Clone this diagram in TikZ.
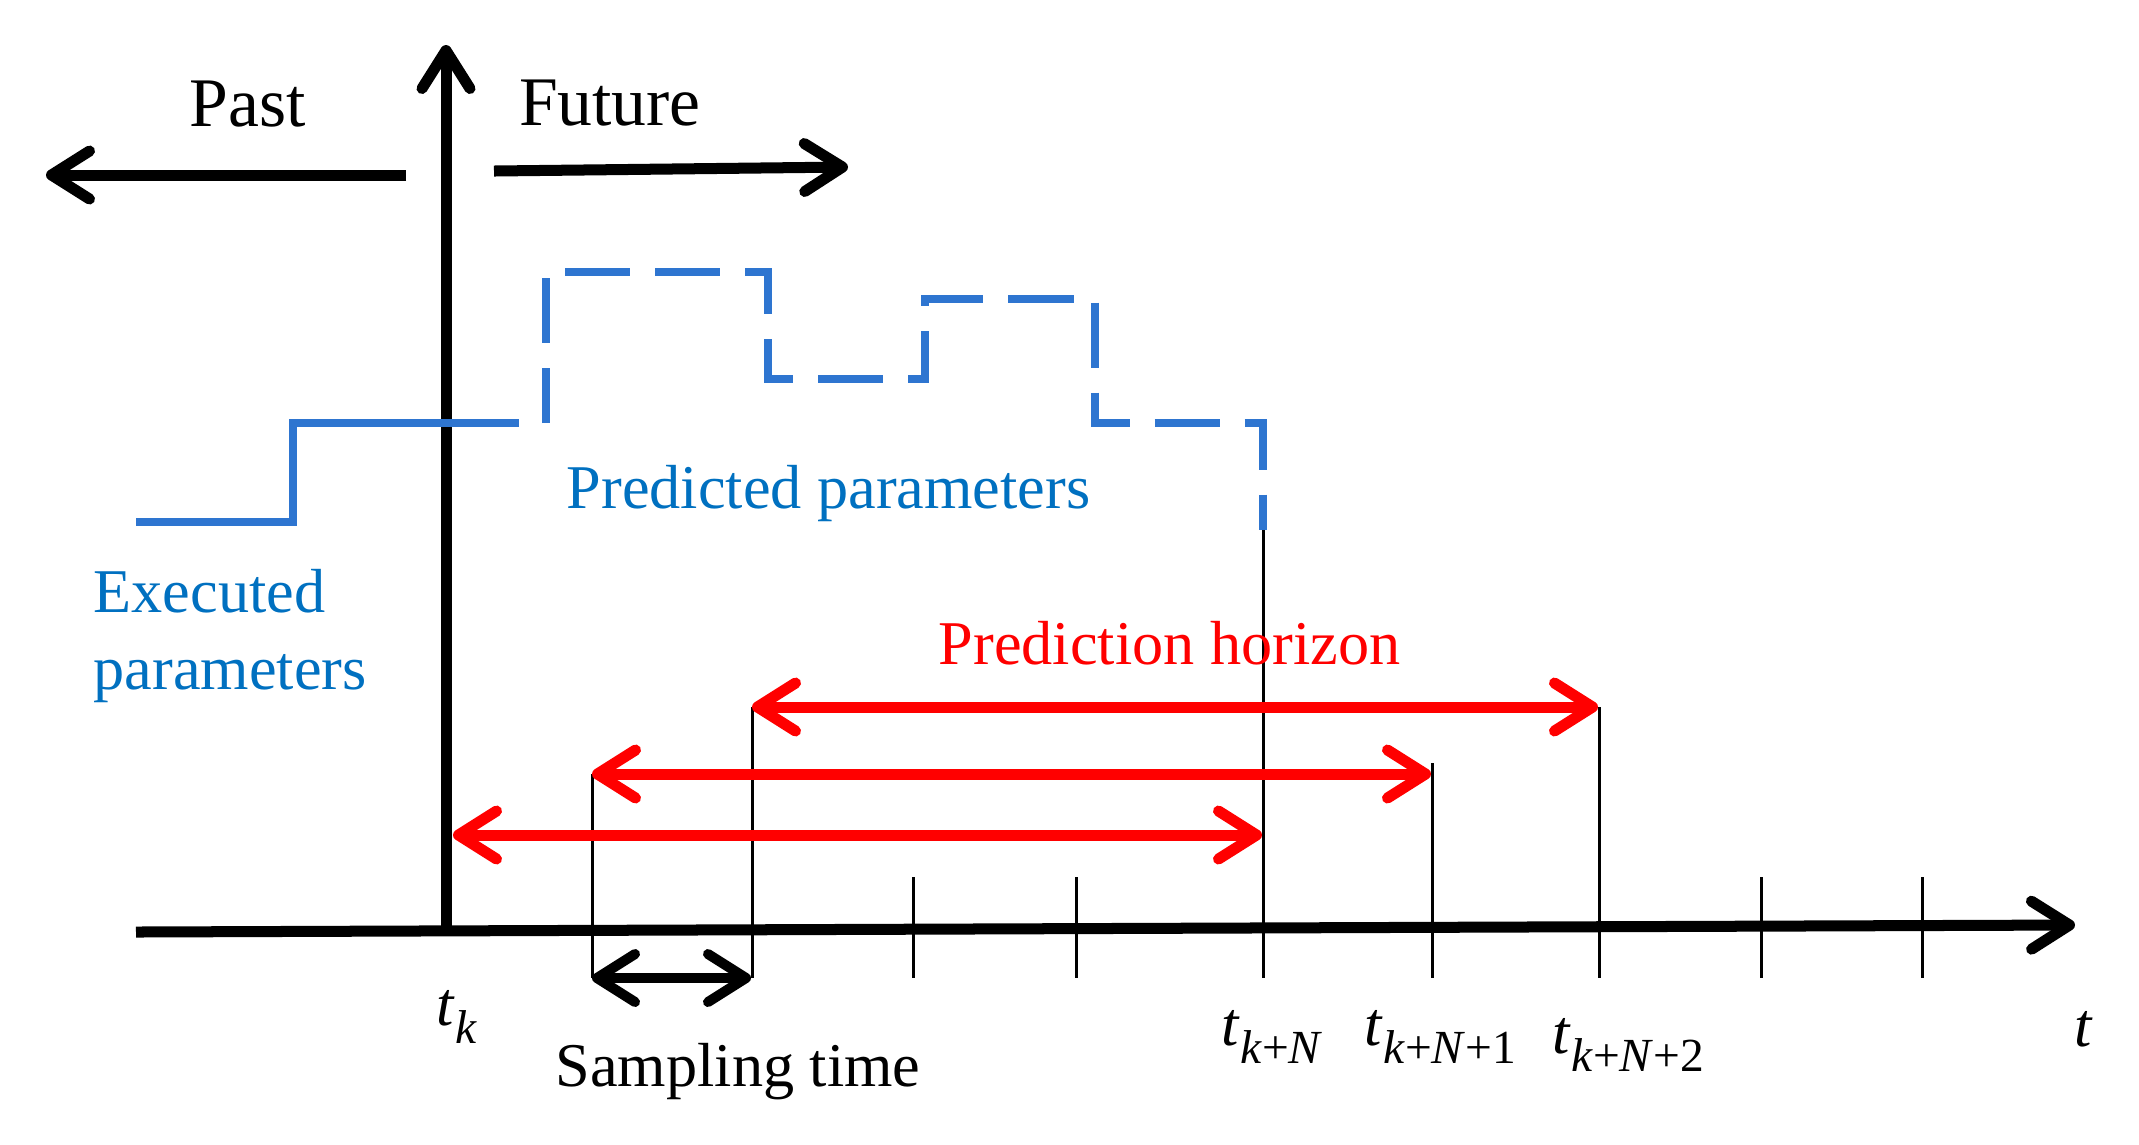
\documentclass[tikz,border=0pt]{standalone}
\usepackage{fontspec}
\setmainfont{Liberation Serif}
\usetikzlibrary{arrows.meta}
\definecolor{linebl}{RGB}{46,117,208}
\definecolor{textbl}{RGB}{0,112,192}
\newcommand{\tsub}[1]{\textit{t}\raisebox{-0.18cm}{\fontsize{13.5}{14}\selectfont #1}}

\begin{document}
\begin{tikzpicture}[x=0.01cm,y=-0.01cm,
    chev/.style={-{Straight Barb[length=0.38cm,width=0.48cm,round]}},
    axis/.style={line width=0.11cm,black,chev},
    span/.style={line width=0.11cm,red,{Straight Barb[length=0.38cm,width=0.48cm,round]}-{Straight Barb[length=0.38cm,width=0.48cm,round]}},
    tickline/.style={line width=0.03cm,black},
    lbl/.style={inner sep=0pt,anchor=base west,font=\fontsize{17.7}{20}\selectfont}]
    \useasboundingbox (0,0) rectangle (2139,1144);

    % time axis and the present instant
    \coordinate (t0) at (136,932);
    \coordinate (tend) at (2075,925);
    \coordinate (now) at (446,930);
    \coordinate (nowtop) at (446,45);
    \draw[axis] (t0) -- (tend);
    \draw[axis] (now) -- (nowtop);

    % past / future
    \coordinate (pastR) at (406,175);
    \coordinate (pastL) at (46,175);
    \coordinate (futL) at (494,171);
    \coordinate (futR) at (848,167);
    \draw[axis] (pastR) -- (pastL);
    \draw[axis] (futL) -- (futR);
    \node[lbl,anchor=base,font=\fontsize{19.8}{22}\selectfont] (past) at (248,126) {Past};
    \node[lbl,anchor=base,font=\fontsize{19.8}{22}\selectfont] (future) at (610,125) {Future};

    % executed and predicted parameters
    \draw[line width=0.08cm,linebl] (136,522) -- (293,522) -- (293,423) -- (519,423);
    \draw[line width=0.08cm,linebl,dash pattern=on 0.65cm off 0.25cm,dash phase=0.1cm]
        (546,423) -- (546,272) -- (768,272) -- (768,379) -- (925,379)
        -- (925,299) -- (1095,299) -- (1095,423) -- (1263,423) -- (1263,530);
    \node[lbl,text=textbl] (pred) at (566,508) {Predicted parameters};
    \node[lbl,text=textbl,align=left,anchor=north west] (exec) at (93,569)
        {Executed\\[0.06cm]parameters};

    % sampling instants
    \foreach \x/\ytop in {592/774,752/707,1263/530,1432/763,1599/707,
                         913/877,1076/877,1761/877,1922/877}
        \draw[tickline] (\x,\ytop) -- (\x,978);

    % horizons
    \coordinate (h1a) at (453,835);  \coordinate (h1b) at (1262,835);
    \coordinate (h2a) at (592,774);  \coordinate (h2b) at (1431,774);
    \coordinate (h3a) at (752,707);  \coordinate (h3b) at (1598,707);
    \draw[span] (h1a) -- (h1b);
    \draw[span] (h2a) -- (h2b);
    \draw[span] (h3a) -- (h3b);
    \node[lbl,text=red] (horizon) at (938,664) {Prediction horizon};

    \coordinate (sa) at (592,978);
    \coordinate (sb) at (751,978);
    \draw[line width=0.1cm,black,{Straight Barb[length=0.38cm,width=0.48cm,round]}-{Straight Barb[length=0.38cm,width=0.48cm,round]}] (sa) -- (sb);
    \node[lbl] (samp) at (555,1086) {Sampling time};

    % instant labels
    \node[lbl] (tk) at (436,1025) {\tsub{\textit{k}}};
    \node[lbl] (tkN) at (1221,1045) {\tsub{\textit{k}+\textit{N}}};
    \node[lbl] (tkN1) at (1364,1045) {\tsub{\textit{k}+\textit{N}+1}};
    \node[lbl] (tkN2) at (1552,1053) {\tsub{\textit{k}+\textit{N}+2}};
    \node[lbl] (tt) at (2074,1046) {\textit{t}};
\end{tikzpicture}
\end{document}
